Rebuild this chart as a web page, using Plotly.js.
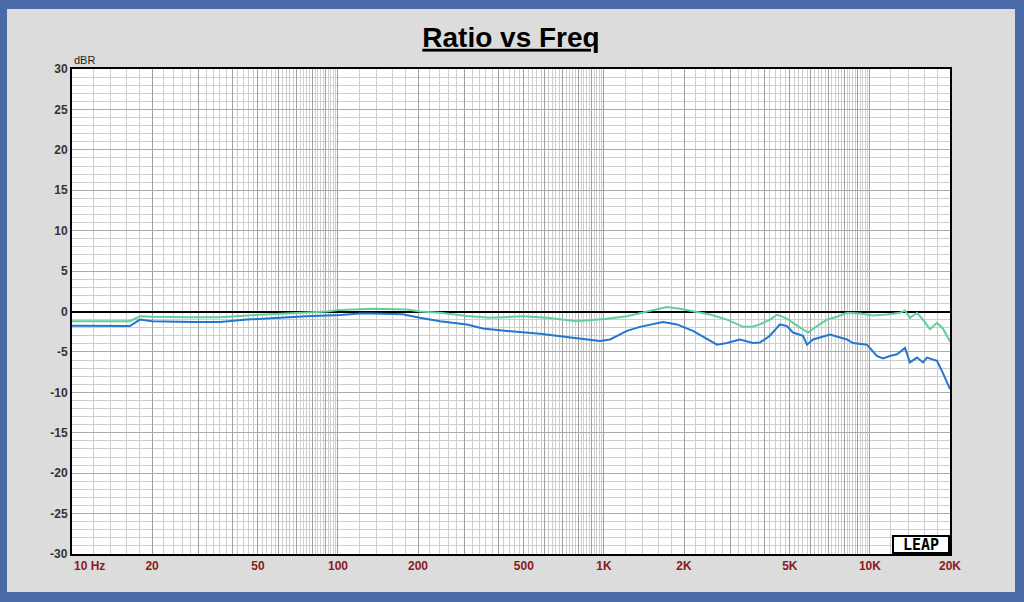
<!DOCTYPE html>
<html>
<head>
<meta charset="utf-8">
<script src="https://cdn.plot.ly/plotly-3.0.1.min.js"></script>
<style>
body { margin: 0; }
#frame { position: absolute; left: 0; top: 0; width: 1024px; height: 602px; background: #4a6aa8; }
#graph { position: absolute; left: 7px; top: 9px; width: 1008px; height: 583px; }
</style>
</head>
<body>
<div id="frame"><div id="graph"></div></div>
<script>
let green_freq = [10, 16.5, 18, 20, 28, 36, 51, 72, 91, 102, 114, 135, 182, 203, 242, 305, 372, 496, 611, 791,
    1026, 1220, 1452, 1726, 1930, 2161, 2503, 2900, 3333, 3633, 3857, 4207, 4470, 4669, 4875, 5137, 5602, 5848,
    6324, 6891, 7516, 8197, 9171, 10260, 11587, 12966, 13550, 14130, 15030, 15830, 16820, 17870, 18800, 20000];
let green_db = [-1.2, -1.2, -0.6, -0.65, -0.7, -0.7, -0.4, -0.15, 0.0, 0.2, 0.25, 0.33, 0.25, 0.0, -0.16, -0.55, -0.78, -0.6, -0.78, -1.2,
    -0.9, -0.58, 0.0, 0.55, 0.35, 0.0, -0.37, -1.0, -1.9, -1.85, -1.6, -1.0, -0.4, -0.6, -0.9, -1.4, -2.2, -2.6,
    -1.8, -1.0, -0.65, -0.16, -0.25, -0.5, -0.37, -0.16, 0.12, -0.78, -0.16, -1.0, -2.2, -1.4, -2.1, -3.7];

let blue_freq = [10, 16.5, 18, 20, 28.5, 36, 45.5, 57, 76, 102, 121, 135, 175, 203, 242, 305, 351, 432, 575, 764, 966,
    1054, 1220, 1365, 1667, 1881, 2161, 2661, 2900, 3243, 3633, 3857, 4207, 4588, 4875, 5137, 5602, 5800, 6110,
    7077, 8197, 8636, 9749, 10618, 11190, 11885, 12640, 13550, 14130, 15030, 15830, 16380, 17870, 18800, 20000];
let blue_db = [-1.75, -1.8, -1.0, -1.2, -1.3, -1.3, -1.0, -0.8, -0.58, -0.42, -0.25, -0.25, -0.35, -0.78, -1.2, -1.6, -2.1, -2.4, -2.75, -3.25, -3.66,
    -3.46, -2.4, -1.9, -1.3, -1.6, -2.4, -4.1, -3.9, -3.46, -3.9, -3.85, -3.0, -1.6, -1.8, -2.6, -3.0, -4.1, -3.46,
    -2.84, -3.46, -3.9, -4.1, -5.5, -5.8, -5.5, -5.3, -4.5, -6.3, -5.7, -6.3, -5.7, -6.1, -7.6, -9.6];

let x_major = [10, 20, 30, 40, 50, 60, 70, 80, 90, 100, 200, 300, 400, 500, 600, 700, 800, 900,
    1000, 2000, 3000, 4000, 5000, 6000, 7000, 8000, 9000, 10000, 20000];
let x_labels = ['', '20', '', '', '50', '', '', '', '', '100', '200', '', '', '500', '', '', '', '',
    '1K', '2K', '', '', '5K', '', '', '', '', '10K', '20K'];
let y_major = [-30, -25, -20, -15, -10, -5, 0, 5, 10, 15, 20, 25, 30];
let y_labels = ['', '-25', '-20', '-15', '-10', '-5', '0', '5', '10', '15', '20', '25', '30'];


function minor_freqs(decades)
{
    // lines every 2 units inside each decade, skipping the major ones
    let result = [];
    for (let d of decades)
    {
        for (let i = 12; i < 100; i += 2)
        {
            if (i % 10 != 0)
                result.push(i * d / 10);
        }
    }
    return result.filter(v => v < 20000);
}


function minor_db()
{
    let result = [];
    for (let v = -29; v < 30; ++v)
    {
        if (v % 5 != 0)
            result.push(v);
    }
    return result;
}


window.onload = () =>
{
    let font = 'Liberation Sans, Arial, sans-serif';

    let traces = [
        {x: green_freq, y: green_db, type: 'scatter', mode: 'lines',
         line: {color: '#5fd09c', width: 2}, hoverinfo: 'skip'},
        {x: blue_freq, y: blue_db, type: 'scatter', mode: 'lines',
         line: {color: '#2277cf', width: 2}, hoverinfo: 'skip'}
    ];

    let layout = {
        width: 1008,
        height: 583,
        margin: {l: 65, r: 65, t: 60, b: 38},
        paper_bgcolor: '#dcdcdc',
        plot_bgcolor: '#ffffff',
        showlegend: false,
        title: {
            text: '<b><u>Ratio vs Freq</u></b>',
            font: {family: font, size: 28, color: '#000000'},
            x: 0.5, xanchor: 'center',
            yref: 'container', y: 0.952, yanchor: 'middle'
        },
        xaxis: {
            type: 'log',
            range: [1, Math.log10(20000)],
            tickmode: 'array',
            tickvals: x_major,
            ticktext: x_labels,
            ticks: '',
            tickfont: {family: font, size: 12, color: '#8b1a1a', weight: 'bold'},
            showgrid: true,
            gridcolor: '#a0a0a0',
            gridwidth: 1,
            minor: {tickmode: 'array', tickvals: minor_freqs([10, 100, 1000, 10000]),
                    showgrid: true, gridcolor: '#cecece', gridwidth: 1, ticks: ''},
            showline: true, mirror: true, linecolor: '#000000', linewidth: 2,
            zeroline: false,
            fixedrange: true
        },
        yaxis: {
            range: [-30, 30],
            tickmode: 'array',
            tickvals: y_major,
            ticktext: y_labels,
            ticks: '',
            tickfont: {family: font, size: 12, color: '#333333', weight: 'bold'},
            showgrid: true,
            gridcolor: '#aaaaaa',
            gridwidth: 1,
            minor: {tickmode: 'array', tickvals: minor_db(),
                    showgrid: true, gridcolor: '#cecece', gridwidth: 1, ticks: ''},
            showline: true, mirror: true, linecolor: '#000000', linewidth: 2,
            zeroline: true, zerolinecolor: '#000000', zerolinewidth: 2,
            fixedrange: true
        },
        annotations: [
            {text: 'dBR', xref: 'paper', yref: 'paper', x: 0, y: 1, xanchor: 'left', yanchor: 'bottom',
             yshift: 1, showarrow: false, font: {family: font, size: 11, color: '#222222'}},
            {text: '<b>10 Hz</b>', xref: 'paper', yref: 'paper', x: 0, y: 0, xanchor: 'left', yanchor: 'top',
             yshift: -3, showarrow: false, font: {family: font, size: 12, color: '#8b1a1a'}},
            {text: '<b>-30</b>', xref: 'paper', yref: 'paper', x: 0, y: 0, xanchor: 'right', yanchor: 'middle',
             xshift: -2, showarrow: false, font: {family: font, size: 12, color: '#333333'}},
            {text: '<b>LEAP</b>', xref: 'paper', yref: 'paper', x: 1, y: 0, xanchor: 'right', yanchor: 'bottom',
             showarrow: false, bgcolor: '#ffffff', bordercolor: '#000000', borderwidth: 2, borderpad: 0,
             width: 54, height: 15, align: 'center',
             font: {family: 'DejaVu Sans Mono, monospace', size: 15, color: '#000000'}}
        ]
    };

    Plotly.newPlot('graph', traces, layout, {staticPlot: true});
};
</script>
</body>
</html>
